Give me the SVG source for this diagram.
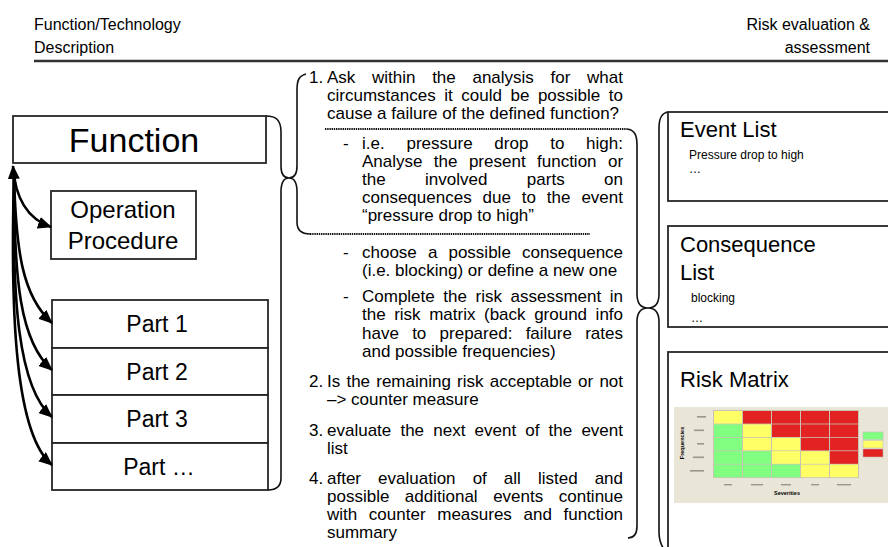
<svg xmlns="http://www.w3.org/2000/svg" width="888" height="547" viewBox="0 0 888 547">
<defs>
<style>
text{font-family:"Liberation Sans",Arial,Helvetica,sans-serif;fill:#000}
.hd{font-size:16px}
.box{fill:#fff;stroke:#262626;stroke-width:1.8}
.t{font-size:17px}
.ttl{font-size:22px}
.sm{font-size:12px}
.brace{fill:none;stroke:#111;stroke-width:1.6}
.dot{fill:none;stroke:#111;stroke-width:2.2;stroke-dasharray:1.4 0.8}
.arr{fill:none;stroke:#000;stroke-width:2.6}
.Y{fill:#ffff66}.R{fill:#e32222}.G{fill:#80ff80}
.lbl{fill:#9a978c}
</style>
<marker id="ah" viewBox="0 0 14 12" refX="13" refY="6" markerWidth="14" markerHeight="12" markerUnits="userSpaceOnUse" orient="auto-start-reverse"><path d="M0,0 L14,6 L0,12 z" fill="#000"/></marker>
</defs>
<rect width="888" height="547" fill="#fff"/>

<g id="header">
<text class="hd" x="34" y="30">Function/Technology</text>
<text class="hd" x="34" y="53">Description</text>
<text class="hd" x="870" y="30" text-anchor="end">Risk evaluation &amp;</text>
<text class="hd" x="870" y="53" text-anchor="end">assessment</text>
<path d="M34,61 H888" stroke="#333" stroke-width="2.5"/>
</g>

<g id="node-function">
<rect class="box" x="13" y="116" width="253" height="47"/>
<text x="134" y="152" font-size="34" text-anchor="middle">Function</text>
</g>
<g id="node-operation">
<rect class="box" x="51" y="191" width="145" height="68"/>
<text x="123" y="218" font-size="24" text-anchor="middle">Operation</text>
<text x="123" y="249" font-size="24" text-anchor="middle">Procedure</text>
</g>
<g id="node-part1">
<rect class="box" x="52" y="300" width="216" height="48"/>
<text x="157" y="332" font-size="23" text-anchor="middle">Part 1</text>
</g>
<g id="node-part2">
<rect class="box" x="52" y="348" width="216" height="47"/>
<text x="157" y="380" font-size="23" text-anchor="middle">Part 2</text>
</g>
<g id="node-part3">
<rect class="box" x="52" y="395" width="216" height="48"/>
<text x="157" y="427" font-size="23" text-anchor="middle">Part 3</text>
</g>
<g id="node-partn">
<rect class="box" x="52" y="443" width="216" height="47"/>
<text x="159" y="475" font-size="23" text-anchor="middle">Part …</text>
</g>

<g id="connectors">
<path class="arr" d="M13,166 C15,198 28,219 51,227" marker-start="url(#ah)" marker-end="url(#ah)"/>
<path class="arr" d="M14,176 C16,250 22,296 52,323" marker-end="url(#ah)"/>
<path class="arr" d="M14,176 C14,280 20,342 52,370" marker-end="url(#ah)"/>
<path class="arr" d="M14,176 C12,300 18,388 52,417" marker-end="url(#ah)"/>
<path class="arr" d="M14,176 C10,320 16,435 52,465" marker-end="url(#ah)"/>
</g>

<g id="braces">
<path class="brace" d="M266,116 C276,116 281,120 281,132 L281,166 C281,174 284,178 289,178 C284,178 281,183 281,192 L281,478 C281,486 277,490 268,490"/>
<path class="brace" d="M306,74 C299,76 297,80 297,90 L297,166 C297,174 294,178 289,178 C294,178 297,183 297,192 L297,222 C297,230 301,234 310,234"/>
<path class="dot" d="M310,234 H590"/>
<path class="dot" d="M325,129 H627"/>
<path class="brace" d="M627,129 C634,130 637,134 637,145 L637,294 C637,303 641,308 648,308 C641,308 637,313 637,322 L637,526 C637,534 634,538 628,538"/>
<path class="brace" d="M668,112 C662,113 659,117 659,128 L659,294 C659,303 655,308 648,308 C655,308 659,313 659,322 L659,532 C659,540 661,545 664,549"/>
</g>

<g id="steps">
<text class="t" x="309" y="83">1.</text>
<text class="t" x="327" y="83" word-spacing="11.95">Ask within the analysis for what</text>
<text class="t" x="327" y="101" word-spacing="3.83">circumstances it could be possible to</text>
<text class="t" x="327" y="119">cause a failure of the defined function?</text>
<text class="t" x="343" y="149">-</text>
<text class="t" x="362" y="149" word-spacing="17.05">i.e. pressure drop to high:</text>
<text class="t" x="362" y="167" word-spacing="6.67">Analyse the present function or</text>
<text class="t" x="362" y="185" word-spacing="34.7">the involved parts on</text>
<text class="t" x="362" y="203" word-spacing="6.17">consequences due to the event</text>
<text class="t" x="362" y="221">“pressure drop to high”</text>
<text class="t" x="343" y="258">-</text>
<text class="t" x="362" y="258" word-spacing="6.37">choose a possible consequence</text>
<text class="t" x="362" y="276">(i.e. blocking) or define a new one</text>
<text class="t" x="343" y="302">-</text>
<text class="t" x="362" y="302" word-spacing="3.85">Complete the risk assessment in</text>
<text class="t" x="362" y="320" word-spacing="3.83">the risk matrix (back ground info</text>
<text class="t" x="362" y="339" word-spacing="8.55">have to prepared: failure rates</text>
<text class="t" x="362" y="357">and possible frequencies)</text>
<text class="t" x="309" y="387">2.</text>
<text class="t" x="327" y="387" word-spacing="1.46">Is the remaining risk acceptable or not</text>
<text class="t" x="327" y="405">–&gt; counter measure</text>
<text class="t" x="309" y="436">3.</text>
<text class="t" x="327" y="436" word-spacing="4.44">evaluate the next event of the event</text>
<text class="t" x="327" y="454">list</text>
<text class="t" x="309" y="484">4.</text>
<text class="t" x="327" y="484" word-spacing="12.33">after evaluation of all listed and</text>
<text class="t" x="327" y="502" word-spacing="10.77">possible additional events continue</text>
<text class="t" x="327" y="520" word-spacing="6.92">with counter measures and function</text>
<text class="t" x="327" y="538">summary</text>
</g>

<g id="node-eventlist">
<rect class="box" x="668" y="112" width="240" height="89"/>
<text class="ttl" x="680" y="137">Event List</text>
<text class="sm" x="689" y="159">Pressure drop to high</text>
<text class="sm" x="689" y="173">…</text>
</g>
<g id="node-consequencelist">
<rect class="box" x="668" y="226" width="240" height="101"/>
<text class="ttl" x="680" y="252">Consequence</text>
<text class="ttl" x="680" y="280">List</text>
<text class="sm" x="691" y="302">blocking</text>
<text class="sm" x="691" y="322">…</text>
</g>
<g id="node-riskmatrix">
<rect class="box" x="668" y="352" width="240" height="220"/>
<text class="ttl" x="680" y="387">Risk Matrix</text>
<g id="matrix">
<rect x="674" y="407" width="214" height="96" fill="#e9e5d7"/>
<rect x="713" y="410" width="146" height="68" fill="#c8c4b4"/>
<rect class="Y" x="714" y="411" width="28" height="12.6"/>
<rect class="R" x="743" y="411" width="28" height="12.6"/>
<rect class="R" x="772" y="411" width="28" height="12.6"/>
<rect class="R" x="801" y="411" width="28" height="12.6"/>
<rect class="R" x="830" y="411" width="28" height="12.6"/>
<rect class="G" x="714" y="424.4" width="28" height="12.6"/>
<rect class="Y" x="743" y="424.4" width="28" height="12.6"/>
<rect class="R" x="772" y="424.4" width="28" height="12.6"/>
<rect class="R" x="801" y="424.4" width="28" height="12.6"/>
<rect class="R" x="830" y="424.4" width="28" height="12.6"/>
<rect class="G" x="714" y="437.8" width="28" height="12.6"/>
<rect class="Y" x="743" y="437.8" width="28" height="12.6"/>
<rect class="Y" x="772" y="437.8" width="28" height="12.6"/>
<rect class="R" x="801" y="437.8" width="28" height="12.6"/>
<rect class="R" x="830" y="437.8" width="28" height="12.6"/>
<rect class="G" x="714" y="451.2" width="28" height="12.6"/>
<rect class="G" x="743" y="451.2" width="28" height="12.6"/>
<rect class="Y" x="772" y="451.2" width="28" height="12.6"/>
<rect class="Y" x="801" y="451.2" width="28" height="12.6"/>
<rect class="R" x="830" y="451.2" width="28" height="12.6"/>
<rect class="G" x="714" y="464.6" width="28" height="12.6"/>
<rect class="G" x="743" y="464.6" width="28" height="12.6"/>
<rect class="G" x="772" y="464.6" width="28" height="12.6"/>
<rect class="Y" x="801" y="464.6" width="28" height="12.6"/>
<rect class="Y" x="830" y="464.6" width="28" height="12.6"/>
<rect class="G" x="863" y="432" width="20" height="7.5" stroke="#bbb" stroke-width="0.5"/>
<rect class="Y" x="863" y="440.5" width="20" height="7.5" stroke="#bbb" stroke-width="0.5"/>
<rect class="R" x="863" y="449" width="20" height="8" stroke="#bbb" stroke-width="0.5"/>
<rect class="lbl" x="697" y="416" width="9" height="1.6"/>
<rect class="lbl" x="694" y="429.5" width="10" height="1.6"/>
<rect class="lbl" x="697" y="443" width="7" height="1.6"/>
<rect class="lbl" x="693" y="456.5" width="11" height="1.6"/>
<rect class="lbl" x="690" y="470" width="14" height="1.6"/>
<rect class="lbl" x="724" y="484" width="8" height="1.4"/>
<rect class="lbl" x="751" y="484" width="12" height="1.4"/>
<rect class="lbl" x="781" y="484" width="10" height="1.4"/>
<rect class="lbl" x="811" y="484" width="8" height="1.4"/>
<rect class="lbl" x="837" y="484" width="14" height="1.4"/>
<text x="787" y="495" font-size="5.5" font-weight="bold" fill="#555" text-anchor="middle">Severities</text>
<text x="0" y="0" font-size="5.5" font-weight="bold" fill="#555" text-anchor="middle" transform="translate(684,443) rotate(-90)">Frequencies</text>
</g>
</g>
</svg>
